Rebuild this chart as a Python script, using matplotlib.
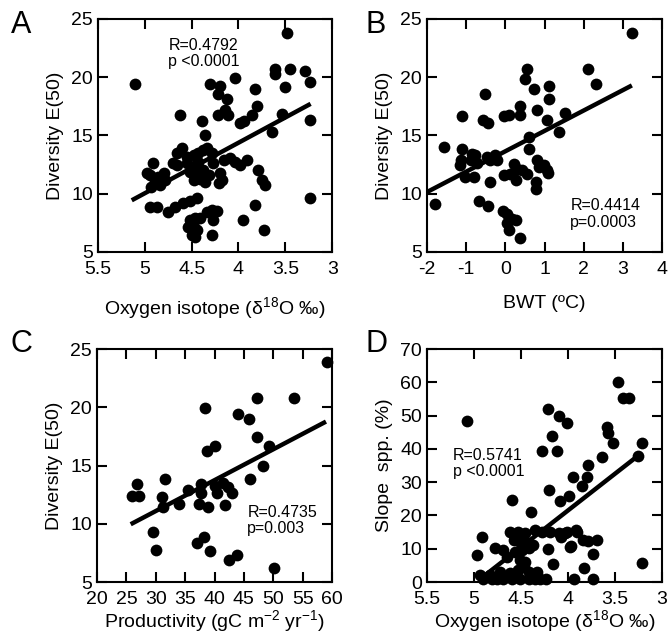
import matplotlib
matplotlib.use('Agg')
import matplotlib.pyplot as plt

plt.rcParams['font.family'] = ['Liberation Sans', 'DejaVu Sans']
plt.rcParams['mathtext.fontset'] = 'custom'
plt.rcParams['mathtext.rm'] = 'Liberation Sans'
plt.rcParams['mathtext.it'] = 'Liberation Sans'

# panel A: diversity vs oxygen isotope
a_x = [5.107, 3.48, 3.607, 3.607, 3.446, 3.286, 3.232, 3.5, 3.536, 3.643, 3.232, 3.232,
       4.036, 4.30, 4.196, 4.214, 4.125, 4.214, 4.143, 4.107, 3.946, 3.98, 3.82, 3.80,
       3.857, 4.625, 4.39, 4.357, 4.606, 4.66, 4.55, 4.48, 4.43, 4.376, 4.34, 4.285,
       4.91, 4.70, 4.66, 4.98, 4.944, 4.80, 4.856, 4.89, 4.84, 4.78, 4.93, 4.55,
       4.48, 4.43, 4.52, 4.46, 4.48, 4.41, 4.357, 4.32, 4.375, 4.27, 4.16, 4.09,
       4.036, 3.98, 3.91, 3.79, 3.75, 3.72, 4.2, 4.18, 4.21, 4.944, 4.87, 4.75,
       4.677, 4.59, 4.52, 4.445, 4.34, 4.285, 4.23, 4.52, 4.46, 4.41, 4.535, 4.48,
       4.445, 4.5, 4.46, 4.285, 3.95, 3.82, 3.73, 4.27]
a_y = [19.43, 23.8, 20.71, 20.29, 20.71, 20.57, 19.57, 19.14, 16.86, 15.29, 16.34, 9.63,
       19.94, 19.43, 19.2, 18.57, 18.14, 16.71, 17.14, 16.71, 16.2, 16.1, 19.0, 17.5,
       16.71, 16.71, 16.2, 15.0, 13.9, 13.47, 13.18, 13.33, 13.47, 13.76, 13.9, 13.47,
       12.6, 12.6, 12.47, 11.8, 11.6, 11.76, 11.46, 11.03, 10.75, 11.18, 10.6, 12.6,
       12.32, 12.75, 11.9, 11.75, 11.18, 11.3, 11.03, 11.6, 12.04, 12.6, 12.9, 13.04,
       12.75, 12.47, 12.9, 12.04, 11.18, 10.75, 11.76, 11.18, 10.9, 8.89, 8.83, 8.46,
       8.83, 9.18, 9.4, 9.6, 8.46, 8.6, 8.55, 7.75, 7.9, 7.9, 7.17, 7.17,
       6.9, 6.46, 6.3, 6.46, 7.75, 9.03, 6.9, 7.75]
a_fit_x = [5.14, 3.23]
a_fit_y = [9.43, 17.71]

# panel B: diversity vs bottom water temperature
b_x = [3.23, 2.10, 2.31, 0.54, 0.51, 0.72, 1.11, 1.11, -0.53, 1.53, 1.06, 1.36,
       0.81, 0.38, 0.37, -0.03, 0.09, -0.57, -0.45, -1.1, -1.57, -1.1, -1.13, -1.15,
       -0.85, -0.77, -0.89, -0.72, -1.02, -0.79, -0.47, -0.38, -0.26, -0.21, -0.4, 0.61,
       0.6, 0.21, 0.3, 0.17, -0.04, 0.11, 0.26, 0.43, 0.55, 0.81, 0.85, 0.98,
       1.06, 1.1, 0.78, 0.78, -0.68, -0.45, -1.79, -0.06, 0.04, 0.17, 0.26, 0.04,
       0.1, 0.37]
b_y = [23.8, 20.71, 19.43, 20.71, 19.86, 19.0, 19.2, 18.14, 18.57, 16.91, 16.29, 15.29,
       17.14, 17.5, 16.71, 16.63, 16.77, 16.29, 16.06, 16.63, 14.0, 13.86, 12.86, 12.43,
       13.43, 13.3, 12.86, 12.6, 11.43, 11.43, 13.14, 12.86, 13.29, 12.86, 11.0, 14.9,
       13.8, 12.57, 12.14, 11.71, 11.57, 11.71, 11.14, 12.0, 11.71, 12.86, 12.29, 12.43,
       12.0, 11.77, 11.0, 10.43, 9.37, 8.91, 9.09, 8.51, 8.29, 7.86, 7.71, 7.49,
       6.86, 6.23]
b_fit_x = [-2.0, 3.23]
b_fit_y = [10.14, 19.29]

# panel C: diversity vs productivity
c_x = [59.14, 47.2, 53.6, 38.34, 44.07, 45.8, 47.3, 49.3, 40.06, 38.74, 48.25, 45.96,
       26.88, 31.63, 26.0, 27.16, 31.06, 31.17, 33.93, 35.47, 37.77, 37.77, 37.36, 38.91,
       40.06, 40.34, 41.5, 42.3, 42.9, 41.8, 29.46, 30.0, 37.0, 38.17, 39.3, 42.5,
       43.9, 50.2]
c_y = [23.85, 20.78, 20.78, 19.92, 19.43, 19.0, 17.48, 16.68, 16.71, 16.25, 14.96, 13.81,
       13.38, 13.81, 12.4, 12.4, 12.32, 11.46, 11.66, 12.89, 13.38, 12.6, 11.66, 11.46,
       13.26, 12.6, 13.47, 13.18, 12.6, 11.6, 9.3, 7.73, 8.36, 8.87, 7.64, 6.92,
       7.3, 6.23]
c_fit_x = [25.73, 58.97]
c_fit_y = [9.96, 18.77]

# panel D: slope species vs oxygen isotope
d_x = [5.08, 3.47, 3.41, 3.35, 3.585, 3.58, 3.52, 3.21, 3.26, 4.21, 4.1, 4.01,
       4.17, 4.28, 4.12, 3.64, 3.79, 3.95, 3.8, 3.85, 4.2, 3.99, 4.09, 4.6,
       4.39, 3.91, 4.03, 4.08, 3.79, 3.69, 3.73, 3.83, 3.73, 3.94, 3.97, 4.16,
       4.21, 3.21, 4.617, 4.53, 4.457, 4.35, 4.28, 4.19, 4.1, 4.01, 3.907, 4.92,
       4.777, 4.69, 4.58, 4.51, 4.44, 4.37, 4.42, 4.49, 4.56, 3.98, 4.97, 4.65,
       4.51, 4.46, 4.47, 4.53, 4.42, 4.33, 4.94, 4.83, 4.72, 4.62, 4.9, 4.81,
       4.76, 4.69, 4.6, 4.51, 4.42, 4.35, 4.3, 4.23, 3.84]
d_y = [48.5, 60.2, 55.3, 55.3, 46.5, 44.7, 41.7, 41.7, 38.0, 52.0, 50.0, 47.7,
       44.0, 39.3, 39.3, 37.7, 35.3, 31.5, 31.5, 28.7, 27.5, 25.7, 24.3, 24.5,
       21.0, 15.5, 14.7, 13.5, 12.3, 12.7, 8.5, 4.3, 1.0, 1.0, 10.7, 5.3,
       10.0, 5.7, 15.1, 15.1, 14.6, 15.6, 15.1, 15.1, 14.6, 15.1, 15.1, 13.6,
       10.1, 9.6, 12.6, 12.1, 11.6, 11.1, 10.1, 9.6, 9.1, 10.6, 8.1, 7.6,
       6.6, 6.1, 4.6, 3.6, 3.1, 3.1, 2.1, 2.1, 3.1, 2.6, 0.8, 0.8,
       0.8, 0.8, 0.8, 0.8, 0.8, 0.8, 0.8, 0.8, 12.6]
d_fit_x = [4.93, 3.23]
d_fit_y = [1.0, 38.5]

fig = plt.figure(figsize=(6.69, 6.41), dpi=100)

def panel(rect, xs, ys, fx, fy, letter, letter_xy, xpad):
    ax = fig.add_axes(rect)
    ax.scatter(xs, ys, s=72, c='black', linewidths=0, clip_on=False, zorder=3)
    ax.plot(fx, fy, color='black', lw=3.2, solid_capstyle='butt', zorder=2)
    ax.tick_params(direction='in', top=True, right=True, length=7, width=1.5,
                   labelsize=14)
    ax.tick_params(axis='x', pad=6.5)
    ax.tick_params(axis='y', pad=3.5)
    for s in ax.spines.values():
        s.set_linewidth(1.5)
    ax.xaxis.labelpad = xpad
    ax.yaxis.labelpad = 5
    fig.text(letter_xy[0] / 669, 1 - letter_xy[1] / 641, letter, fontsize=22,
             ha='left', va='baseline')
    return ax

# A
ax = panel([0.1465, 0.607, 0.35, 0.3635], a_x, a_y, a_fit_x, a_fit_y, 'A', (11, 33), 12)
ax.set_xlim(5.5, 3)
ax.set_ylim(5, 25)
ax.set_xticks([5.5, 5, 4.5, 4, 3.5, 3])
ax.set_xticklabels(['5.5', '5', '4.5', '4', '3.5', '3'])
ax.set_yticks([5, 10, 15, 20, 25])
ax.set_xlabel('Oxygen isotope (δ$^{18}$O ‰)', fontsize=14)
ax.set_ylabel('Diversity E(50)', fontsize=14)
ax.text(0.30, 0.92, 'R=0.4792\np <0.0001', transform=ax.transAxes, fontsize=11.5,
        va='top', ha='left', linespacing=1.1)

# B
ax = panel([0.6383, 0.607, 0.3513, 0.3635], b_x, b_y, b_fit_x, b_fit_y, 'B', (366, 33), 12)
ax.set_xlim(-2, 4)
ax.set_ylim(5, 25)
ax.set_xticks([-2, -1, 0, 1, 2, 3, 4])
ax.set_xticklabels(['-2', '-1', '0', '1', '2', '3', '4'])
ax.set_yticks([5, 10, 15, 20, 25])
ax.set_xlabel('BWT (ºC)', fontsize=14)
ax.set_ylabel('Diversity E(50)', fontsize=14)
ax.text(0.61, 0.23, 'R=0.4414\np=0.0003', transform=ax.transAxes, fontsize=11.5,
        va='top', ha='left', linespacing=1.1)

# C
ax = panel([0.145, 0.092, 0.3513, 0.3635], c_x, c_y, c_fit_x, c_fit_y, 'C', (11, 352), 0)
ax.set_xlim(20, 60)
ax.set_ylim(5, 25)
ax.set_xticks([20, 25, 30, 35, 40, 45, 50, 55, 60])
ax.set_yticks([5, 10, 15, 20, 25])
ax.set_xlabel('Productivity (gC m$^{\\mathregular{-2}}$ yr$^{\\mathregular{-1}}$)', fontsize=14)
ax.set_ylabel('Diversity E(50)', fontsize=14)
ax.text(0.64, 0.33, 'R=0.4735\np=0.003', transform=ax.transAxes, fontsize=11.5,
        va='top', ha='left', linespacing=1.1)

# D
ax = panel([0.6383, 0.092, 0.3513, 0.3635], d_x, d_y, d_fit_x, d_fit_y, 'D', (366, 352), 0)
ax.set_xlim(5.5, 3)
ax.set_ylim(0, 70)
ax.set_xticks([5.5, 5, 4.5, 4, 3.5, 3])
ax.set_xticklabels(['5.5', '5', '4.5', '4', '3.5', '3'])
ax.set_yticks([0, 10, 20, 30, 40, 50, 60, 70])
ax.set_xlabel('Oxygen isotope (δ$^{18}$O ‰)', fontsize=14)
ax.set_ylabel('Slope  spp. (%)', fontsize=14)
ax.text(0.11, 0.575, 'R=0.5741\np <0.0001', transform=ax.transAxes, fontsize=11.5,
        va='top', ha='left', linespacing=1.1)

fig.savefig('out.png', dpi=100)
